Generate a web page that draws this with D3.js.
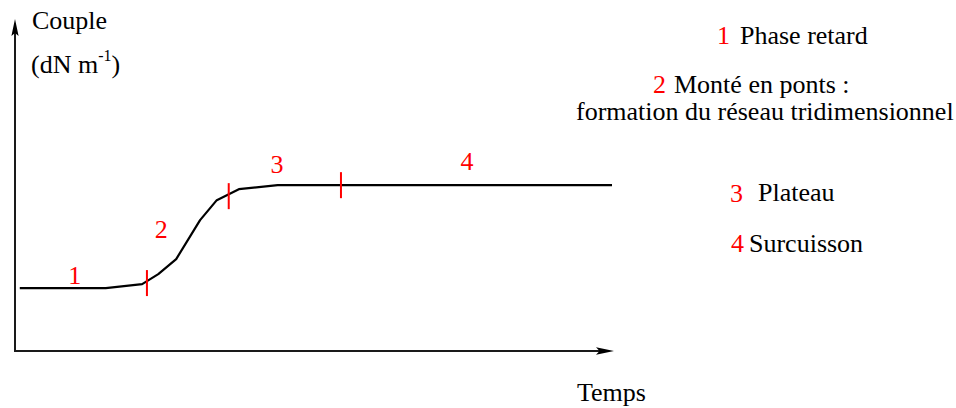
<!DOCTYPE html>
<html>
  <head>
    <meta charset="utf-8">
    <title>Couple vs Temps</title>
    <script src="https://cdn.jsdelivr.net/npm/d3@7"></script>
    <style>
      body { margin: 0; background: #fff; }
      text { font-family: "Liberation Serif", "Times New Roman", serif; font-size: 26px; }
    </style>
  </head>
  <body>
    <svg width="956" height="408" id="mainsvg"></svg>
    <script>
        // curve (time in arbitrary units, torque in arbitrary units)
        const times   = [0.8, 15.2, 21.3, 24.0, 27.0, 31.0, 33.8, 37.5, 44.0, 54.6, 100];
        const couples = [1.89, 1.89, 2.01, 2.31, 2.76, 3.93, 4.53, 4.86, 4.98, 4.98, 4.98];

        // phase boundaries (red marks)
        const bornesT = [22.1, 35.8, 54.6];
        const bornesY = [2.04, 4.65, 4.98];

        // phase numbers on the curve
        const phases  = ['1', '2', '3', '4'];
        const phaseT  = [10.0, 24.5, 43.9, 75.7];
        const phaseY  = [2.01, 3.39, 5.35, 5.44];

        // legend
        const legendNums   = ['1', '2', '3', '4'];
        const legendLabels = ['Phase retard', 'Monté en ponts :', 'Plateau', 'Surcuisson'];

        const svg = d3.select('#mainsvg');
        const red = '#ff0000';

        const x = d3.scaleLinear().domain([0, 100]).range([15, 612]);
        const y = d3.scaleLinear().domain([0, 10]).range([351, 18]);

        // axes
        const axisColor = '#1a1a1a';
        svg.append('line')
          .attr('x1', x(0)).attr('y1', y(0)).attr('x2', x(0)).attr('y2', 30)
          .attr('stroke', axisColor).attr('stroke-width', 2);
        svg.append('line')
          .attr('x1', x(0) - 1).attr('y1', y(0)).attr('x2', 600).attr('y2', y(0))
          .attr('stroke', axisColor).attr('stroke-width', 2);

        // arrow heads
        const ax = x(0);
        svg.append('path')
          .attr('d', `M${ax},19 L${ax + 3.6},36 L${ax},33 L${ax - 3.6},36 Z`)
          .attr('fill', '#000');
        const ay = y(0);
        svg.append('path')
          .attr('d', `M614,${ay} L596,${ay - 3.8} L599.5,${ay} L596,${ay + 3.8} Z`)
          .attr('fill', '#000');

        // axis titles
        svg.append('text').attr('x', 32).attr('y', 29).text('Couple');
        const unit = svg.append('text').attr('x', 31).attr('y', 73);
        unit.append('tspan').text('(dN m');
        unit.append('tspan').attr('dy', -12).style('font-size', '16px').text('-1');
        unit.append('tspan').attr('dy', 12).text(')');
        svg.append('text').attr('x', 577).attr('y', 401).text('Temps');

        // curve
        const pts = times.map((t, i) => [t, couples[i]]);
        const line = d3.line().x(d => x(d[0])).y(d => y(d[1]));
        svg.append('path')
          .attr('d', line(pts))
          .attr('fill', 'none')
          .attr('stroke', '#000')
          .attr('stroke-width', 2.2)
          .attr('stroke-linejoin', 'round');

        // red boundary marks
        svg.selectAll('line.borne').data(bornesT).join('line')
          .attr('class', 'borne')
          .attr('x1', d => x(d)).attr('x2', d => x(d))
          .attr('y1', (d, i) => y(bornesY[i]) - 13)
          .attr('y2', (d, i) => y(bornesY[i]) + 13)
          .attr('stroke', red).attr('stroke-width', 2);

        // phase numbers
        svg.selectAll('text.phase').data(phases).join('text')
          .attr('class', 'phase')
          .attr('x', (d, i) => x(phaseT[i]))
          .attr('y', (d, i) => y(phaseY[i]))
          .attr('text-anchor', 'middle')
          .attr('fill', red)
          .text(d => d);

        // legend
        const numX = [717, 653, 730, 731];
        const numY = [44, 93, 202, 252];
        const labX = [740, 674, 758, 749];
        svg.selectAll('text.lnum').data(legendNums).join('text')
          .attr('class', 'lnum')
          .attr('x', (d, i) => numX[i]).attr('y', (d, i) => numY[i])
          .attr('fill', red).text(d => d);
        svg.selectAll('text.llab').data(legendLabels).join('text')
          .attr('class', 'llab')
          .attr('x', (d, i) => labX[i]).attr('y', (d, i) => numY[i] - (i === 2 ? 1 : 0))
          .text(d => d);
        svg.append('text').attr('x', 576).attr('y', 120)
          .text('formation du réseau tridimensionnel');
    </script>
  </body>
</html>
